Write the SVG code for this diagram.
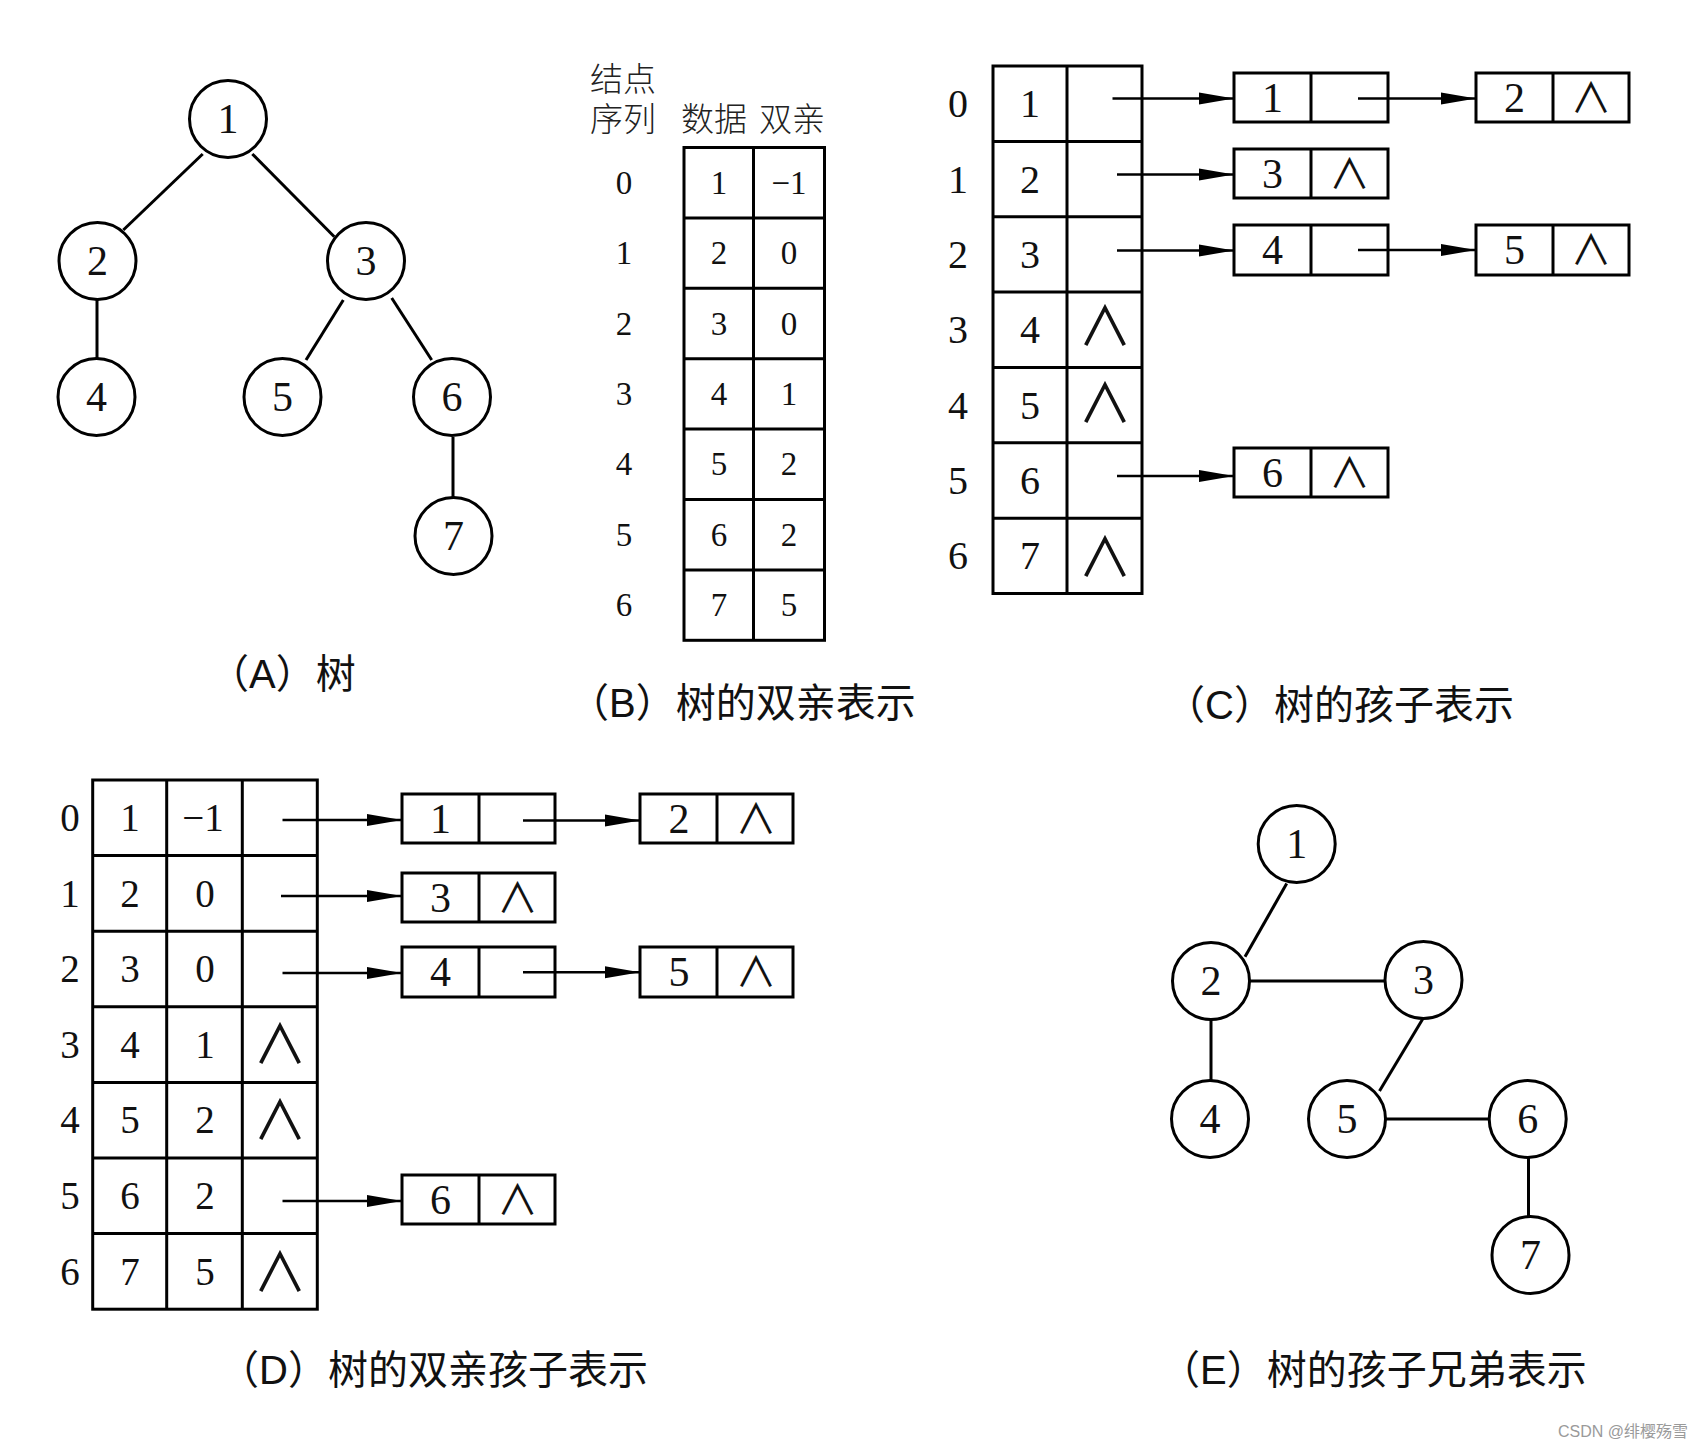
<svg xmlns="http://www.w3.org/2000/svg" width="1700" height="1450" viewBox="0 0 1700 1450">
<defs>
<style>
.bg{fill:#fff}
.edge{stroke:#000;stroke-width:3;fill:none}
.arr{stroke:#000;stroke-width:2.6;fill:none}
.nd circle{fill:#fff;stroke:#000;stroke-width:3}
.cell{fill:#fff;stroke:#000;stroke-width:3}
.grid{stroke:#000;stroke-width:3;fill:none}
.num{font-family:"Liberation Serif","Times New Roman",serif;text-anchor:middle;fill:#111}
.n42{font-size:42px}
.n40{font-size:40px}
.n39{font-size:39px}
.n33{font-size:33px}
.hdr{font-family:"Liberation Sans","Noto Sans CJK SC",sans-serif;font-size:33px;text-anchor:middle;fill:#222;font-weight:300}
.cap{font-family:"Liberation Sans","Noto Sans CJK SC",sans-serif;font-size:40px;fill:#111}
.nul{font-family:"Noto Sans CJK SC",sans-serif;text-anchor:middle;fill:#111;font-weight:400}
.big{font-size:54px}
.sml{font-size:41px}
.wm{font-family:"Liberation Sans","Noto Sans CJK SC",sans-serif;font-size:16px;fill:#9a9a9a;text-anchor:end}
</style>
<marker id="ah" markerUnits="userSpaceOnUse" markerWidth="36" markerHeight="14" refX="35" refY="7" orient="auto">
<path d="M0,1 L35,7 L0,13 z" fill="#000"/>
</marker>
</defs>
<rect class="bg" x="0" y="0" width="1700" height="1450"/>

<!-- (A) tree nodes -->
<g id="A-n1" class="nd"><circle cx="228" cy="119" r="38.5"/><text class="num n42" x="228" y="133">1</text></g>
<g id="A-n2" class="nd"><circle cx="97.5" cy="261" r="38.5"/><text class="num n42" x="97.5" y="275">2</text></g>
<g id="A-n3" class="nd"><circle cx="366" cy="261" r="38.5"/><text class="num n42" x="366" y="275">3</text></g>
<g id="A-n4" class="nd"><circle cx="96.5" cy="397" r="38.5"/><text class="num n42" x="96.5" y="411">4</text></g>
<g id="A-n5" class="nd"><circle cx="282.5" cy="397" r="38.5"/><text class="num n42" x="282.5" y="411">5</text></g>
<g id="A-n6" class="nd"><circle cx="452" cy="397" r="38.5"/><text class="num n42" x="452" y="411">6</text></g>
<g id="A-n7" class="nd"><circle cx="453.5" cy="536" r="38.5"/><text class="num n42" x="453.5" y="550">7</text></g>
<text id="cap-A" class="cap" x="209" y="688">（A）树</text>

<!-- (B) parent representation -->
<g id="B-header">
  <text class="hdr" x="623" y="91">结点</text>
  <text class="hdr" x="623" y="131">序列</text>
  <text class="hdr" x="714" y="131">数据</text>
  <text class="hdr" x="792" y="131">双亲</text>
</g>
<g id="B-table">
  <rect class="cell" x="684" y="147.5" width="140.5" height="492.8"/>
  <path class="grid" d="M753.5,147.5 V640.3 M684,217.9 H824.5 M684,288.3 H824.5 M684,358.7 H824.5 M684,429.1 H824.5 M684,499.5 H824.5 M684,569.9 H824.5"/>
  <g class="num n33">
    <text x="624" y="194">0</text><text x="719" y="194">1</text><text x="789" y="194">−1</text>
    <text x="624" y="264">1</text><text x="719" y="264">2</text><text x="789" y="264">0</text>
    <text x="624" y="335">2</text><text x="719" y="335">3</text><text x="789" y="335">0</text>
    <text x="624" y="405">3</text><text x="719" y="405">4</text><text x="789" y="405">1</text>
    <text x="624" y="475">4</text><text x="719" y="475">5</text><text x="789" y="475">2</text>
    <text x="624" y="546">5</text><text x="719" y="546">6</text><text x="789" y="546">2</text>
    <text x="624" y="616">6</text><text x="719" y="616">7</text><text x="789" y="616">5</text>
  </g>
</g>
<text id="cap-B" class="cap" x="569" y="717">（B）树的双亲表示</text>

<!-- (C) child representation -->
<g id="C-table">
  <rect class="cell" x="993" y="66" width="149" height="527.5"/>
  <path class="grid" d="M1067,66 V593.5 M993,141.4 H1142 M993,216.7 H1142 M993,292.1 H1142 M993,367.4 H1142 M993,442.8 H1142 M993,518.2 H1142"/>
  <g class="num n40">
    <text x="958" y="117">0</text><text x="1030" y="117">1</text>
    <text x="958" y="192.5">1</text><text x="1030" y="192.5">2</text>
    <text x="958" y="268">2</text><text x="1030" y="268">3</text>
    <text x="958" y="343">3</text><text x="1030" y="343">4</text>
    <text x="958" y="418.5">4</text><text x="1030" y="418.5">5</text>
    <text x="958" y="494">5</text><text x="1030" y="494">6</text>
    <text x="958" y="569">6</text><text x="1030" y="569">7</text>
  </g>
  <g class="nul big">
    <text x="1105" y="346">∧</text>
    <text x="1105" y="423">∧</text>
    <text x="1105" y="577">∧</text>
  </g>
</g>
<g id="C-c1"><rect class="cell" x="1234" y="73" width="154" height="49"/><line class="grid" x1="1311" y1="73" x2="1311" y2="122"/><text class="num n42" x="1272.5" y="111.5">1</text></g>
<g id="C-c2"><rect class="cell" x="1476" y="73" width="153" height="49"/><line class="grid" x1="1553" y1="73" x2="1553" y2="122"/><text class="num n42" x="1514.5" y="111.5">2</text><text class="nul sml" x="1591" y="112.5">∧</text></g>
<g id="C-c3"><rect class="cell" x="1234" y="149" width="154" height="49"/><line class="grid" x1="1311" y1="149" x2="1311" y2="198"/><text class="num n42" x="1272.5" y="187.5">3</text><text class="nul sml" x="1349.5" y="189">∧</text></g>
<g id="C-c4"><rect class="cell" x="1234" y="225" width="154" height="50"/><line class="grid" x1="1311" y1="225" x2="1311" y2="275"/><text class="num n42" x="1272.5" y="264">4</text></g>
<g id="C-c5"><rect class="cell" x="1476" y="225" width="153" height="50"/><line class="grid" x1="1553" y1="225" x2="1553" y2="275"/><text class="num n42" x="1514.5" y="264">5</text><text class="nul sml" x="1591" y="265">∧</text></g>
<g id="C-c6"><rect class="cell" x="1234" y="448" width="154" height="49"/><line class="grid" x1="1311" y1="448" x2="1311" y2="497"/><text class="num n42" x="1272.5" y="486.5">6</text><text class="nul sml" x="1349.5" y="488">∧</text></g>
<text id="cap-C" class="cap" x="1165" y="719">（C）树的孩子表示</text>

<!-- (D) parent-child representation -->
<g id="D-table">
  <rect class="cell" x="92.7" y="780" width="224.6" height="529.2"/>
  <path class="grid" d="M166.7,780 V1309.2 M242.3,780 V1309.2 M92.7,855.6 H317.3 M92.7,931.2 H317.3 M92.7,1006.8 H317.3 M92.7,1082.4 H317.3 M92.7,1158 H317.3 M92.7,1233.6 H317.3"/>
  <g class="num n39">
    <text x="70" y="831">0</text><text x="130" y="831">1</text><text x="203" y="831">−1</text>
    <text x="70" y="906.5">1</text><text x="130" y="906.5">2</text><text x="205" y="906.5">0</text>
    <text x="70" y="982">2</text><text x="130" y="982">3</text><text x="205" y="982">0</text>
    <text x="70" y="1057.5">3</text><text x="130" y="1057.5">4</text><text x="205" y="1057.5">1</text>
    <text x="70" y="1133">4</text><text x="130" y="1133">5</text><text x="205" y="1133">2</text>
    <text x="70" y="1209">5</text><text x="130" y="1209">6</text><text x="205" y="1209">2</text>
    <text x="70" y="1284.5">6</text><text x="130" y="1284.5">7</text><text x="205" y="1284.5">5</text>
  </g>
  <g class="nul big">
    <text x="280" y="1064">∧</text>
    <text x="280" y="1140">∧</text>
    <text x="280" y="1292">∧</text>
  </g>
</g>
<g id="D-c1"><rect class="cell" x="402" y="794" width="153" height="49"/><line class="grid" x1="479" y1="794" x2="479" y2="843"/><text class="num n42" x="440.5" y="832.5">1</text></g>
<g id="D-c2"><rect class="cell" x="640" y="794" width="153" height="49"/><line class="grid" x1="717" y1="794" x2="717" y2="843"/><text class="num n42" x="679" y="832.5">2</text><text class="nul sml" x="756" y="833.5">∧</text></g>
<g id="D-c3"><rect class="cell" x="402" y="873" width="153" height="49"/><line class="grid" x1="479" y1="873" x2="479" y2="922"/><text class="num n42" x="440.5" y="911.5">3</text><text class="nul sml" x="517.5" y="912.5">∧</text></g>
<g id="D-c4"><rect class="cell" x="402" y="947" width="153" height="50"/><line class="grid" x1="479" y1="947" x2="479" y2="997"/><text class="num n42" x="440.5" y="986">4</text></g>
<g id="D-c5"><rect class="cell" x="640" y="947" width="153" height="50"/><line class="grid" x1="717" y1="947" x2="717" y2="997"/><text class="num n42" x="679" y="986">5</text><text class="nul sml" x="756" y="987">∧</text></g>
<g id="D-c6"><rect class="cell" x="402" y="1175" width="153" height="49"/><line class="grid" x1="479" y1="1175" x2="479" y2="1224"/><text class="num n42" x="440.5" y="1213.5">6</text><text class="nul sml" x="517.5" y="1214.5">∧</text></g>
<text id="cap-D" class="cap" x="219" y="1384">（D）树的双亲孩子表示</text>

<!-- (E) child-sibling representation -->
<g id="E-n1" class="nd"><circle cx="1296.7" cy="844" r="38.5"/><text class="num n42" x="1296.7" y="858">1</text></g>
<g id="E-n2" class="nd"><circle cx="1211" cy="981" r="38.5"/><text class="num n42" x="1211" y="995">2</text></g>
<g id="E-n3" class="nd"><circle cx="1423.5" cy="980" r="38.5"/><text class="num n42" x="1423.5" y="994">3</text></g>
<g id="E-n4" class="nd"><circle cx="1210" cy="1119" r="38.5"/><text class="num n42" x="1210" y="1133">4</text></g>
<g id="E-n5" class="nd"><circle cx="1347" cy="1119" r="38.5"/><text class="num n42" x="1347" y="1133">5</text></g>
<g id="E-n6" class="nd"><circle cx="1527.7" cy="1119" r="38.5"/><text class="num n42" x="1527.7" y="1133">6</text></g>
<g id="E-n7" class="nd"><circle cx="1530.5" cy="1255" r="38.5"/><text class="num n42" x="1530.5" y="1269">7</text></g>
<text id="cap-E" class="cap" x="1160" y="1384">（E）树的孩子兄弟表示</text>

<text id="watermark" class="wm" x="1688" y="1437">CSDN @绯樱殇雪</text>

<!-- connectors (drawn last so they sit on top of cell fills) -->
<g id="connectors">
  <!-- (A) tree edges -->
  <line class="edge" x1="202.7" y1="154" x2="123.3" y2="230"/>
  <line class="edge" x1="252.3" y1="154" x2="334.3" y2="236.7"/>
  <line class="edge" x1="97" y1="300" x2="97" y2="358"/>
  <line class="edge" x1="343.3" y1="300" x2="306" y2="360"/>
  <line class="edge" x1="391.7" y1="298" x2="431.7" y2="360"/>
  <line class="edge" x1="453" y1="437" x2="453" y2="497.5"/>
  <!-- (C) arrows -->
  <line class="arr" x1="1112.5" y1="98.5" x2="1234" y2="98.5" marker-end="url(#ah)"/>
  <line class="arr" x1="1117" y1="174.5" x2="1234" y2="174.5" marker-end="url(#ah)"/>
  <line class="arr" x1="1117" y1="250.5" x2="1234" y2="250.5" marker-end="url(#ah)"/>
  <line class="arr" x1="1117" y1="476" x2="1234" y2="476" marker-end="url(#ah)"/>
  <line class="arr" x1="1358" y1="98.5" x2="1476" y2="98.5" marker-end="url(#ah)"/>
  <line class="arr" x1="1358" y1="250" x2="1476" y2="250" marker-end="url(#ah)"/>
  <!-- (D) arrows -->
  <line class="arr" x1="282.5" y1="820" x2="402" y2="820" marker-end="url(#ah)"/>
  <line class="arr" x1="281" y1="896" x2="402" y2="896" marker-end="url(#ah)"/>
  <line class="arr" x1="282.5" y1="973" x2="402" y2="973" marker-end="url(#ah)"/>
  <line class="arr" x1="282.5" y1="1201" x2="402" y2="1201" marker-end="url(#ah)"/>
  <line class="arr" x1="523" y1="820.5" x2="640" y2="820.5" marker-end="url(#ah)"/>
  <line class="arr" x1="523" y1="972.3" x2="640" y2="972.3" marker-end="url(#ah)"/>
  <!-- (E) edges -->
  <line class="edge" x1="1286.7" y1="883.6" x2="1245" y2="956.7"/>
  <line class="edge" x1="1250" y1="981" x2="1385" y2="981"/>
  <line class="edge" x1="1211" y1="1020" x2="1211" y2="1081"/>
  <line class="edge" x1="1422.7" y1="1019" x2="1379.5" y2="1091"/>
  <line class="edge" x1="1386" y1="1119" x2="1489" y2="1119"/>
  <line class="edge" x1="1528.5" y1="1158" x2="1528.5" y2="1217"/>
</g>
</svg>
